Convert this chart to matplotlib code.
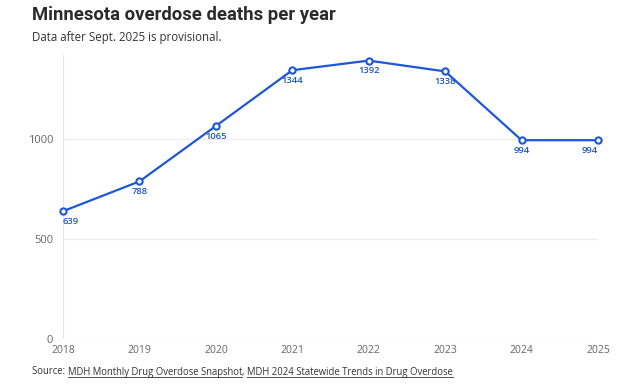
import matplotlib.pyplot as plt

# %% data
years = [2018, 2019, 2020, 2021, 2022, 2023, 2024, 2025]
deaths = [639, 788, 1065, 1344, 1392, 1338, 994, 994]
y_ticks = [0, 500, 1000]

line_color = '#1c58d6'
label_color = '#1f55c4'
tick_color = '#666666'

plt.rcParams['font.family'] = ['Open Sans', 'DejaVu Sans']

fig = plt.figure(figsize=(6.24, 3.84), dpi=100)
ax = fig.add_axes([63 / 624, 45 / 384, 535 / 624, 284 / 384])

# %% grid and axes
ax.set_xlim(years[0], years[-1])
ax.set_ylim(0, 1420)
for yt in y_ticks[1:]:
    ax.axhline(yt, color='#ececec', lw=0.8, zorder=0)
ax.axhline(0, color='#e2e2e2', lw=0.8, zorder=0)
ax.axvline(years[0], color='#e6e6e6', lw=0.8, zorder=0)
for s in ax.spines.values():
    s.set_visible(False)

ax.set_xticks(years)
ax.set_xticklabels([str(y) for y in years], fontsize=7.5, color=tick_color)
ax.set_yticks(y_ticks)
ax.set_yticklabels([str(y) for y in y_ticks], fontsize=8, color=tick_color)
ax.tick_params(length=0, pad=4)
ax.tick_params(axis='y', pad=7)

# %% the line
ax.plot(years, deaths, color=line_color, lw=1.6, marker='o', ms=4.5,
        mfc='white', mec=line_color, mew=1.5, zorder=3, clip_on=False)
for i, (x, y) in enumerate(zip(years, deaths)):
    ha = 'left' if i == 0 else ('right' if i == len(years) - 1 else 'center')
    ax.annotate(str(y), (x, y), xytext=(0, -4), textcoords='offset points',
                ha=ha, va='top', fontsize=6.8, color=label_color,
                fontweight='semibold')

# %% titles
fig.text(32 / 624, 1 - 15 / 384, 'Minnesota overdose deaths per year',
         fontsize=13.3, fontweight='bold', color='#2b2b2b', va='center',
         family=['Roboto', 'DejaVu Sans'])
fig.text(32 / 624, 1 - 37 / 384, 'Data after Sept. 2025 is provisional.',
         fontsize=8.3, color='#333333', va='center')

# %% source with underlined links
fig.canvas.draw()
renderer = fig.canvas.get_renderer()
parts = [('Source: ', False), ('MDH Monthly Drug Overdose Snapshot', True),
         (', ', False), ('MDH 2024 Statewide Trends in Drug Overdose', True)]
x0 = 32
for txt, underline in parts:
    t = fig.text(x0 / 624, 1 - 372 / 384, txt, fontsize=6.85, color='#333333',
                 va='center')
    bb = t.get_window_extent(renderer)
    if underline:
        yline = (bb.y0 + 0.5) / fig.bbox.height
        fig.add_artist(plt.Line2D([bb.x0 / fig.bbox.width, bb.x1 / fig.bbox.width],
                                  [yline, yline], color='#333333', lw=0.6))
    x0 += bb.width

fig.savefig('out.png', dpi=100)
